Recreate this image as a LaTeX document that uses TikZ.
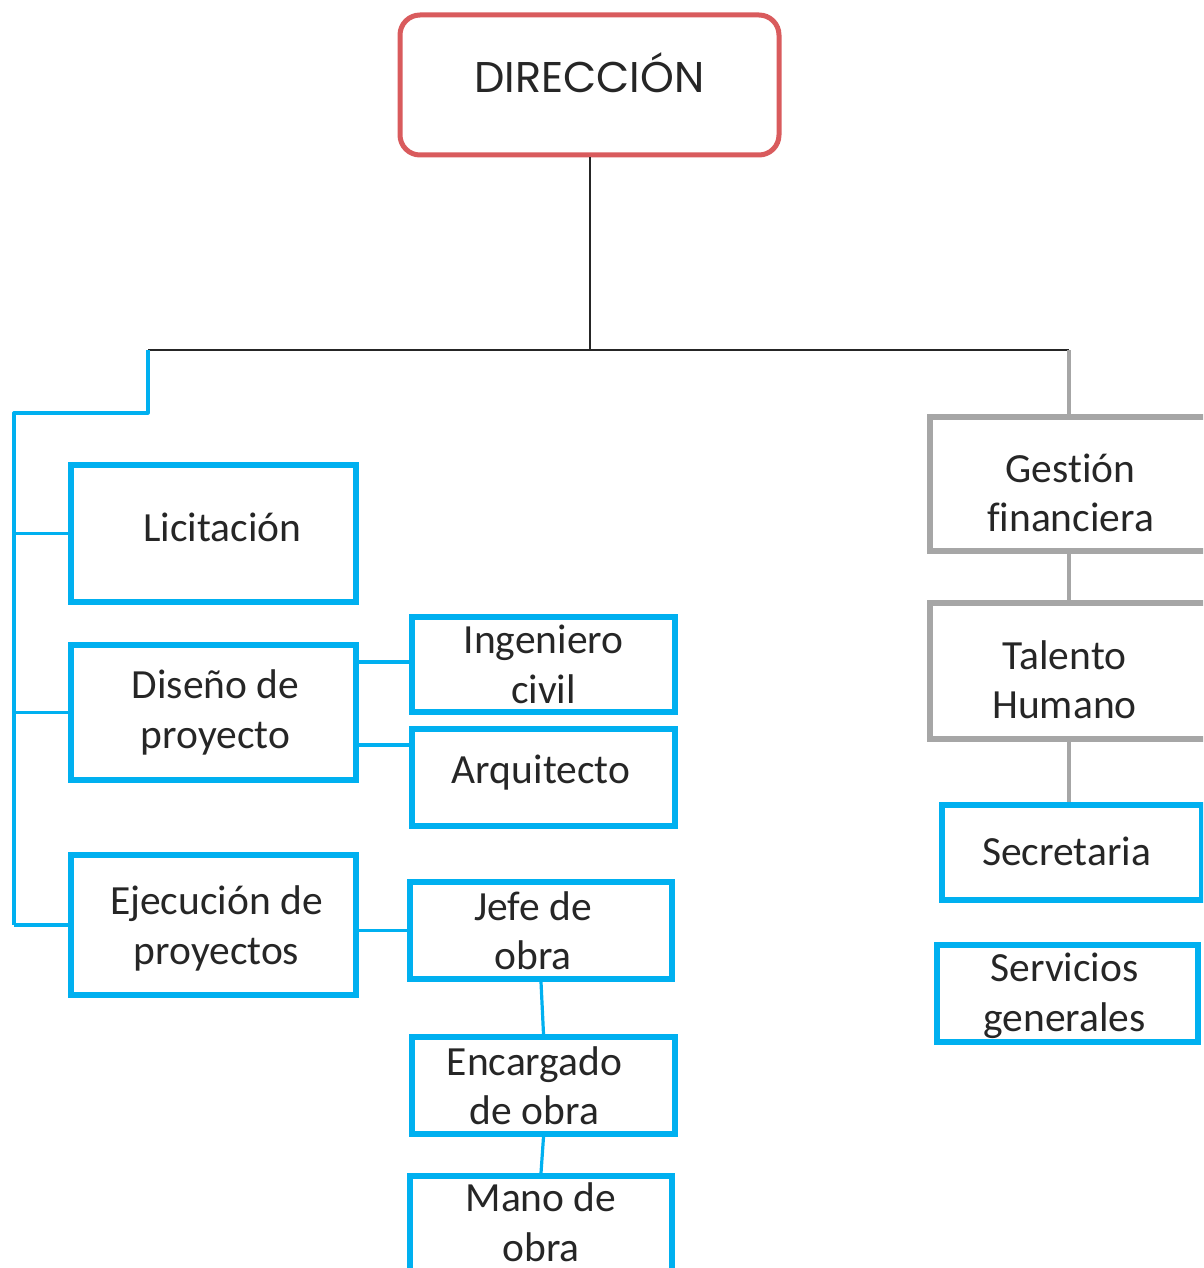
\documentclass[tikz,border=0pt]{standalone}
\usepackage{fontspec}
\setmainfont{Carlito}[Ligatures=NoCommon]
\newfontfamily\headfont{Poppins}
\definecolor{bluebox}{HTML}{00B0F0}
\definecolor{greybox}{HTML}{A6A6A6}
\definecolor{redbox}{HTML}{D95B5D}
\begin{document}
\begin{tikzpicture}[x=1pt,y=-1pt,
  every node/.style={inner sep=0pt},
  txt/.style={font=\fontsize{41.5}{49.5}\selectfont, text=black!85, align=center},
  bbox/.style={draw=bluebox, line width=6pt, rectangle},
  gbox/.style={draw=greybox, line width=6pt, rectangle},
  blueline/.style={draw=bluebox, line width=3.2pt},
  greyline/.style={draw=greybox, line width=4pt},
  blackline/.style={draw=black!85, line width=2pt}]
\useasboundingbox (0,0) rectangle (1203,1268);
\clip (0,0) rectangle (1203,1268);

% head of the organisation
\node[draw=redbox, line width=5pt, rounded corners=20pt, minimum width=379pt, minimum height=140pt] (dir) at (589.5,85) {};
\node[font=\headfont\fontsize{43}{50}\selectfont, text=black!85] (dirt) at ([yshift=12pt]dir.center) {DIRECCIÓN};

% left branch boxes
\node[bbox, minimum width=285pt, minimum height=137pt] (lic) at (213.5,533.5) {};
\node[bbox, minimum width=285pt, minimum height=135pt] (dis) at (213.5,712.5) {};
\node[bbox, minimum width=285pt, minimum height=140pt] (eje) at (213.5,925) {};
\node[bbox, minimum width=263pt, minimum height=95pt] (ing) at (543.5,664.5) {};
\node[bbox, minimum width=263pt, minimum height=97pt] (arq) at (543.5,777.5) {};
\node[bbox, minimum width=262pt, minimum height=97pt] (jefe) at (541,930.5) {};
\node[bbox, minimum width=263pt, minimum height=97pt] (enc) at (543.5,1085.5) {};
\node[bbox, minimum width=262pt, minimum height=120pt] (mano) at (541,1236) {};

% right branch boxes
\node[gbox, minimum width=286pt, minimum height=134pt] (ges) at (1073,484) {};
\node[gbox, minimum width=286pt, minimum height=136pt] (tal) at (1073,671) {};
\node[bbox, minimum width=260pt, minimum height=95pt] (sec) at (1072,852.5) {};
\node[bbox, minimum width=261pt, minimum height=97pt] (ser) at (1067.5,993.5) {};

% box texts
\node[txt] (lict) at ([xshift=9pt,yshift=6pt]lic.center) {Licitación};
\node[txt] (dist) at ([xshift=2pt]dis.center) {Diseño de\\proyecto};
\node[txt] (ejet) at ([xshift=3pt,yshift=-3.5pt]eje.center) {Ejecución de\\proyectos};
\node[txt] (ingt) at (ing.center) {Ingeniero\\civil};
\node[txt] (arqt) at ([xshift=-2.5pt,yshift=5pt]arq.center) {Arquitecto};
\node[txt] (jefet) at ([xshift=-8pt]jefe.center) {Jefe de\\obra};
\node[txt] (enct) at ([xshift=-9pt]enc.center) {Encargado\\de obra};
\node[txt] (manot) at ([yshift=-49pt]mano.north) {Mano de\\obra};
\node[txt] (gest) at ([xshift=-2.5pt,yshift=-9pt]ges.center) {Gestión\\financiera};
\node[txt] (talt) at ([xshift=-8.5pt,yshift=-8.5pt]tal.center) {Talento\\Humano};
\node[txt] (sect) at ([xshift=-5.5pt,yshift=1.5pt]sec.center) {Secretaria};
\node[txt] (sert) at ([xshift=-3pt,yshift=-2.5pt]ser.center) {Servicios\\generales};

% junction points of the main tree
\coordinate (jl) at (148,350);
\coordinate (jr) at (1069,350);
\coordinate (corner) at (148,413);
\coordinate (spine) at (14,413);

\draw[blackline] (dir.south) -- (dir.south |- jl);
\draw[blackline] (jl) -- (jr);

% left spine and its branches
\draw[blueline, line join=round] (jl) -- (corner) -- (spine) -- (spine |- eje.west);
\draw[blueline] (spine |- lic.west) -- (lic.west);
\draw[blueline] (spine |- dis.west) -- (dis.west);
\draw[blueline] (spine |- eje.west) -- (eje.west);
\draw[blueline] (dis.east |- 0,662) -- (ing.west |- 0,662);
\draw[blueline] (dis.east |- 0,745) -- (arq.west |- 0,745);
\draw[blueline] (eje.east |- jefe.west) -- (jefe.west);
\draw[blueline] (jefe.south) -- (enc.north);
\draw[blueline] (enc.south) -- (mano.north);

% right chain
\draw[greyline] (jr) -- (jr |- ges.north);
\draw[greyline] (jr |- ges.south) -- (jr |- tal.north);
\draw[greyline] (jr |- tal.south) -- (jr |- sec.north);
\end{tikzpicture}
\end{document}
